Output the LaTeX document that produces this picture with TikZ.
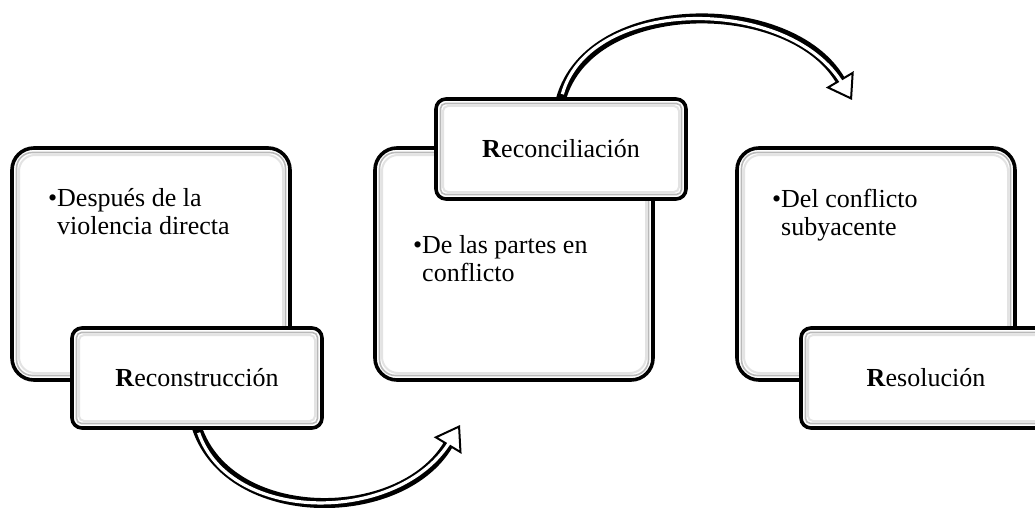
\documentclass[tikz,border=0pt]{standalone}
\usepackage{fontspec}
\setmainfont{Liberation Serif}
\usetikzlibrary{arrows.meta}
\tikzset{
  bevel/.style={path picture={
    \draw[gray!55, line width=1.6pt, rounded corners=#1]
      ([shift={(4.5pt,-4.5pt)}]path picture bounding box.north west) rectangle
      ([shift={(-4.5pt,4.5pt)}]path picture bounding box.south east);
    \draw[gray!22, line width=2pt, rounded corners=#1]
      ([shift={(7pt,-7pt)}]path picture bounding box.north west) rectangle
      ([shift={(-7pt,7pt)}]path picture bounding box.south east);
  }},
  bigbox/.style={draw=black, line width=3.6pt, fill=white, rounded corners=22pt,
    minimum width=278pt, minimum height=232pt, anchor=north west, inner sep=0pt,
    outer sep=0pt, bevel=16pt},
  smallbox/.style={draw=black, line width=3.6pt, fill=white, rounded corners=10pt,
    minimum width=250pt, minimum height=100pt, inner sep=0pt, outer sep=0pt,
    bevel=5pt, font=\fontsize{26}{29}\selectfont},
  bullettext/.style={anchor=north west, inner sep=0pt, align=left,
    font=\fontsize{26}{28}\selectfont},
  arrowshaft/.style={draw=black, line width=10pt,
    -{Triangle[length=24pt, width=32pt, line width=2pt, fill=white]}},
  arrowstripe/.style={draw=white, line width=3.2pt, shorten >=18pt, shorten <=5pt},
}
\begin{document}
\begin{tikzpicture}[x=1pt, y=-1pt]
\useasboundingbox (0,0) rectangle (1035,508);
\clip (0,0) rectangle (1035,508);

% ---- box 1 ----
\node[bigbox] (b1) at (12,148) {};
\node[bullettext] (t1) at (57,188) {\llap{•}Después de la\\violencia directa};
\node[smallbox] (s1) at (197,378) {\textbf{R}econstrucción};

% ---- box 2 ----
\node[bigbox] (b2) at (375,148) {};
\node[bullettext] (t2) at (422,235) {\llap{•}De las partes en\\conflicto};
\node[smallbox] (s2) at (561,149) {\textbf{R}econciliación};

% ---- box 3 ----
\node[bigbox] (b3) at (737,148) {};
\node[bullettext] (t3) at (781,189) {\llap{•}Del conflicto\\subyacente};
\node[smallbox] (s3) at (926,378) {\textbf{R}esolución};

% ---- arrows ----
\coordinate (e1) at (460,425);
\coordinate (e2) at (852,100);
\draw[arrowshaft] (s1.south) .. controls (230,525) and (400,525) .. (e1);
\draw[arrowstripe] (s1.south) .. controls (230,525) and (400,525) .. (e1);
\draw[arrowshaft] (s2.north) .. controls (590,-5) and (790,-5) .. (e2);
\draw[arrowstripe] (s2.north) .. controls (590,-5) and (790,-5) .. (e2);
\end{tikzpicture}
\end{document}
